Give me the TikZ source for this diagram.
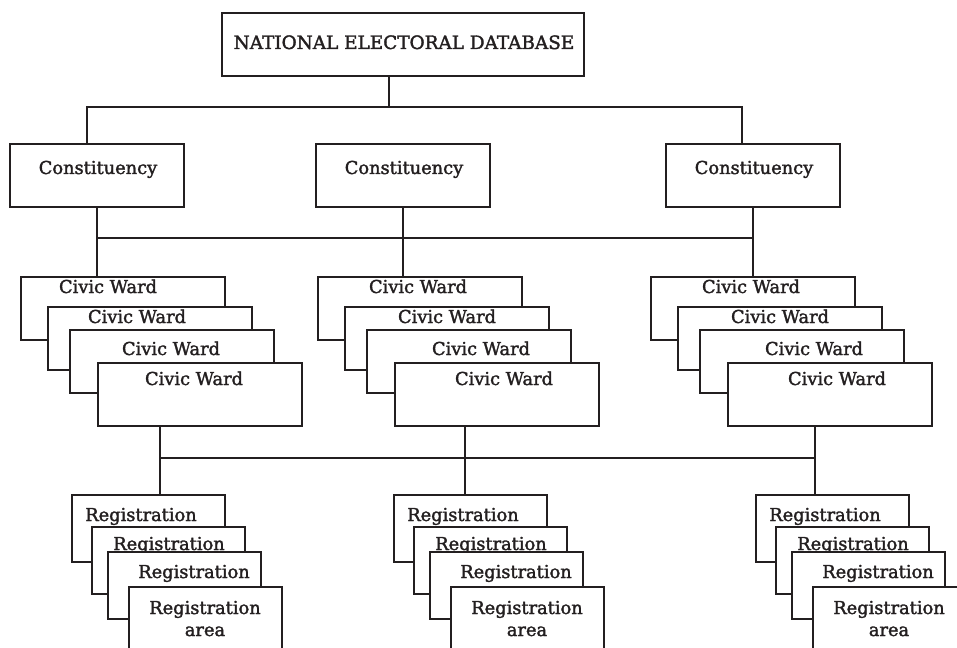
\documentclass[tikz,border=0pt]{standalone}
\usepackage{fontspec}
\setmainfont{DejaVu Serif}
\newfontfamily\boxfont{DejaVu Serif}[FakeBold=1.8]
\usetikzlibrary{calc}
\definecolor{ink}{RGB}{35,31,32}

\begin{document}
\begin{tikzpicture}[x=1pt,y=-1pt,line width=1.8pt,
  box/.style={draw=ink,fill=white,inner sep=0pt,anchor=north west},
  topbox/.style={box,minimum width=362,minimum height=63},
  conbox/.style={box,minimum width=174,minimum height=63},
  ward/.style={box,minimum width=204,minimum height=63},
  regbox/.style={box,minimum width=153,minimum height=67},
  lbl/.style={inner sep=0pt,anchor=base,text=ink,align=center,
    font=\boxfont\fontsize{17.8}{22}\selectfont}]
\useasboundingbox (0,0) rectangle (957,647);
\clip (0,0) rectangle (957,647);

% top level
\node[topbox] (ned) at (221,12) {};
\node[lbl,font=\boxfont\fontsize{18.4}{22}\selectfont] (nedt) at (404,49) {NATIONAL ELECTORAL DATABASE};

% constituencies
\foreach \n/\x in {1/9,2/315,3/665} {
  \node[conbox] (con\n) at (\x,143) {};
  \node[lbl] (con\n t) at (\x+89,174) {Constituency};
}
\coordinate (tb) at (389,107);
\draw[ink] (ned.south -| tb) -- (tb);
\draw[ink] ([xshift=-10]con1.north) |- (tb) -| ([xshift=-11]con3.north);

% civic wards and registration areas
\coordinate (wbus) at (0,238);
\coordinate (rbus) at (0,458);
\foreach \c/\X/\s/\R/\L in {1/20/-13/71/160,2/317/0/393/465,3/650/0/755/815} {
  \foreach \k/\dx/\dy/\tx/\ty in {1/0/276/101/293,2/27/306/130/323,3/49/329/164/355,4/77/362/187/385} {
    \node[ward] (cw\c-\k) at (\X+\dx,\dy) {};
    \node[lbl] (cw\c-\k-t) at (\X+\tx+\s,\ty) {Civic Ward};
  }
  \foreach \k/\dx/\dy/\tx/\ty in {1/0/494/70/521,2/20/526/98/550,3/36/551/123/578} {
    \node[regbox] (reg\c-\k) at (\R+\dx,\dy) {};
    \node[lbl] (reg\c-\k-t) at (\R+\tx,\ty) {Registration};
  }
  \node[regbox,minimum height=80] (reg\c-4) at (\R+57,586) {};
  \node[lbl] (reg\c-4-t) at (\R+134,636) {Registration\\area};
  \coordinate (drop\c) at (\L,458);
  \draw[ink] (con\c.south) -- (con\c.south |- cw\c-1.north);
  \draw[ink] (cw\c-4.south -| drop\c) -- (reg\c-1.north -| drop\c);
}
\draw[ink] (con1.south |- wbus) -- (con3.south |- wbus);
\draw[ink] (drop1) -- (drop3);
\end{tikzpicture}
\end{document}
